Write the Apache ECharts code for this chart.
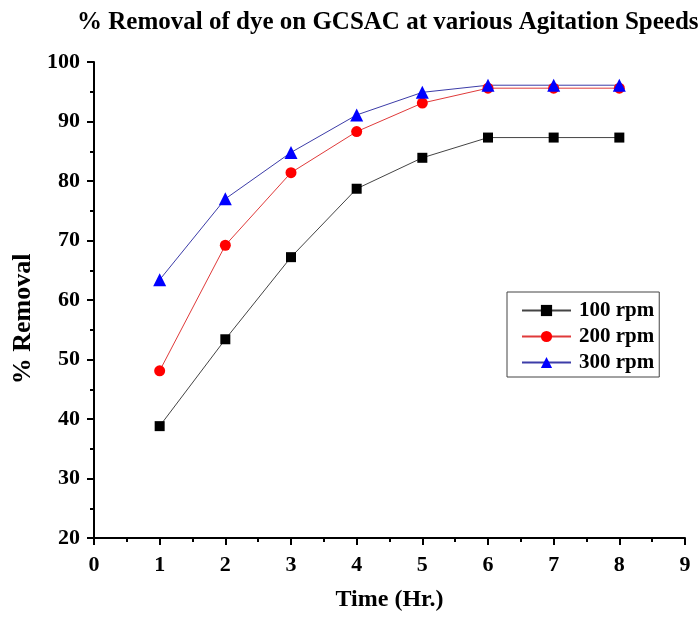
<!DOCTYPE html>
<html><head><meta charset="utf-8">
<script src="https://cdn.jsdelivr.net/npm/echarts@6/dist/echarts.min.js"></script>
<style>html,body{margin:0;padding:0;background:#fff}#c{width:700px;height:617px}</style>
</head><body><div id="c"></div>
<script>
var times = [1, 2, 3, 4, 5, 6, 7, 8];
var rpm100 = [38.8, 53.4, 67.2, 78.7, 83.9, 87.3, 87.3, 87.3];
var rpm200 = [48.1, 69.2, 81.4, 88.3, 93.1, 95.6, 95.6, 95.6];
var rpm300 = [63.4, 77.0, 84.8, 91.1, 94.9, 96.1, 96.1, 96.1];
var seriesNames = ['100 rpm', '200 rpm', '300 rpm'];
var titleText = '% Removal of dye on GCSAC at various Agitation Speeds';
var xName = 'Time (Hr.)';
var yName = '% Removal';

function pairs(v){ return times.map(function(t,i){ return [t, v[i]]; }); }
var font = 'Liberation Serif';
var chart = echarts.init(document.getElementById('c'), null, {renderer:'canvas'});
chart.setOption({
  animation: false,
  backgroundColor: '#fff',
  title: { text: titleText, left: 72, top: 5,
    textStyle: { fontFamily: font, fontWeight: 'bold', fontSize: 25, color: '#000' } },
  grid: { left: 94, right: 15, top: 62, bottom: 76, containLabel: false },
  legend: {
    left: 507, top: 292, orient: 'vertical',
    data: seriesNames,
    itemWidth: 49, itemHeight: 14, itemGap: 5,
    padding: [8, 5, 4, 14],
    borderColor: '#444', borderWidth: 1,
    textStyle: { fontFamily: font, fontWeight: 'bold', fontSize: 21, lineHeight: 21, color: '#000', padding: [0,0,0,3] }
  },
  xAxis: {
    type: 'value', min: 0, max: 9, interval: 1,
    name: xName, nameLocation: 'middle', nameGap: 50,
    nameTextStyle: { fontFamily: font, fontWeight: 'bold', fontSize: 24, color: '#000' },
    axisLine: { show: true, onZero: false, lineStyle: { color: '#000', width: 2 } },
    axisTick: { show: true, inside: false, length: 7, lineStyle: { color: '#000', width: 2 } },
    minorTick: { show: true, splitNumber: 2, length: 4, lineStyle: { color: '#000', width: 2 } },
    axisLabel: { margin: 16, fontFamily: font, fontWeight: 'bold', fontSize: 22, color: '#000' },
    splitLine: { show: false }
  },
  yAxis: {
    type: 'value', min: 20, max: 100, interval: 10,
    name: yName, nameLocation: 'middle', nameGap: 58,
    nameTextStyle: { fontFamily: font, fontWeight: 'bold', fontSize: 26, color: '#000', padding: [0, 38, 0, 0] },
    axisLine: { show: true, onZero: false, lineStyle: { color: '#000', width: 2 } },
    axisTick: { show: true, inside: false, length: 7, lineStyle: { color: '#000', width: 2 } },
    minorTick: { show: true, splitNumber: 2, length: 4, lineStyle: { color: '#000', width: 2 } },
    axisLabel: { margin: 14, fontFamily: font, fontWeight: 'bold', fontSize: 22, color: '#000' },
    splitLine: { show: false }
  },
  series: [
    { name: seriesNames[0], type: 'line', data: pairs(rpm100), symbol: 'rect', symbolSize: 10,
      itemStyle: { color: '#000' }, lineStyle: { color: '#444', width: 1 } },
    { name: seriesNames[1], type: 'line', data: pairs(rpm200), symbol: 'circle', symbolSize: 11,
      itemStyle: { color: '#f00' }, lineStyle: { color: '#e03a3a', width: 1 } },
    { name: seriesNames[2], type: 'line', data: pairs(rpm300), symbol: 'triangle', symbolSize: 13,
      itemStyle: { color: '#00f' }, lineStyle: { color: '#3c3ca8', width: 1 } }
  ]
});
</script></body></html>
